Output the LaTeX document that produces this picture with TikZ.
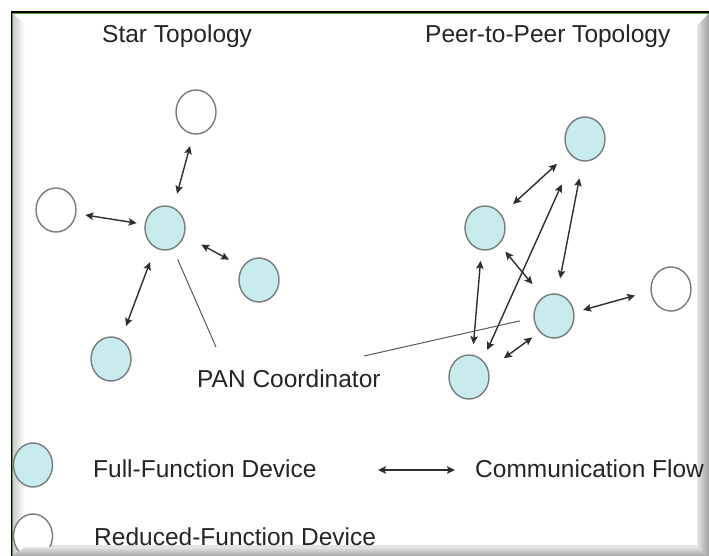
\documentclass[tikz,border=0pt]{standalone}
\usepackage{fontspec}
\setmainfont{Liberation Sans}
\usetikzlibrary{shapes.geometric,arrows.meta}
\definecolor{ffdfill}{HTML}{C8ECEE}
\definecolor{ringgray}{HTML}{7A7C7C}
\definecolor{txt}{HTML}{252525}
\definecolor{flowc}{HTML}{2E2E2E}
\definecolor{framegreen}{HTML}{5A9A2A}
\tikzset{
  dev/.style={ellipse, draw=ringgray, line width=1.4pt, minimum width=40pt, minimum height=44pt, inner sep=0pt},
  ffd/.style={dev, fill=ffdfill},
  rfd/.style={dev, fill=white},
  lbl/.style={font=\fontsize{24.5pt}{28pt}\selectfont, text=txt, inner sep=0pt, anchor=base west},
  flow/.style={draw=flowc, line width=1.4pt, {Stealth[length=8pt,width=7.5pt,inset=1.5pt]}-{Stealth[length=8pt,width=7.5pt,inset=1.5pt]}},
  panline/.style={draw=flowc!80, line width=1pt},
}
\begin{document}
\begin{tikzpicture}[x=1pt,y=-1pt]
\useasboundingbox (0,0) rectangle (709,556);
\fill[white] (0,0) rectangle (709,556);
% frame bevels
\shade[left color=gray!40, right color=white] (12.5,13) -- (25,25) -- (25,545) -- (12.5,556) -- cycle;
\shade[left color=gray!20, right color=gray!75] (697,26) -- (709,13) -- (709,556) -- (697,546) -- cycle;
\shade[top color=gray!20, bottom color=gray!70] (12.5,556) -- (25,545) -- (697,545) -- (709,556) -- cycle;
\draw[black, line width=1.2pt] (11.5,556) -- (11.5,12) -- (709,12);
\draw[framegreen, line width=0.7pt] (12.7,556) -- (12.7,13.2) -- (709,13.2);
% titles
\node[lbl] (startitle) at (102,43) {Star Topology};
\node[lbl] (peertitle) at (425,43) {Peer-to-Peer Topology};
% star topology
\node[rfd] (st) at (196,112) {};
\node[rfd] (sl) at (56,210) {};
\node[ffd] (sc) at (165,228) {};
\node[ffd] (sr) at (259,280) {};
\node[ffd] (sb) at (111,359) {};
\draw[flow, shorten <=12pt, shorten >=14pt] (st.263) -- (sc.68);
\draw[flow, shorten <=9pt, shorten >=8pt] (sl.350) -- (sc.170);
\draw[flow, shorten <=19pt, shorten >=15pt] (sc.339) -- (sr.142);
\draw[flow, shorten <=15pt, shorten >=14pt] (sc.244) -- (sb.63);
% peer-to-peer topology
\node[ffd] (pt) at (585,139) {};
\node[ffd] (pl) at (485,228) {};
\node[ffd] (pm) at (554,316) {};
\node[ffd] (pb) at (469,377) {};
\node[rfd] (pw) at (671,289) {};
\draw[flow, shorten <=15.5pt, shorten >=16pt] (pl.39) -- (pt.221);
\draw[flow, shorten <=11pt, shorten >=29pt] (pb.51) -- (pt.239);
\draw[flow, shorten <=15.5pt, shorten >=17pt] (pm.82) -- (pt.264);
\draw[flow, shorten <=9.5pt, shorten >=16.5pt] (pl.311) -- (pm.120);
\draw[flow, shorten <=10.5pt, shorten >=10.5pt] (pl.261) -- (pb.81);
\draw[flow, shorten <=19pt, shorten >=9pt] (pb.21) -- (pm.228);
\draw[flow, shorten <=9pt, shorten >=16pt] (pm.10) -- (pw.186);
% PAN coordinator label
\node[lbl] (pan) at (197,387) {PAN Coordinator};
\coordinate (panA) at (216,347);
\coordinate (panB) at (364,356);
\draw[panline, shorten <=11.6pt] (sc.291) -- (panA);
\draw[panline, shorten <=14pt] (pm.185) -- (panB);
% legend
\node[ffd, minimum width=39pt] (legf) at (33,465) {};
\node[rfd, minimum width=39pt] (legr) at (33,536) {};
\node[lbl] (legftxt) at (93,477) {Full-Function Device};
\node[lbl] (legrtxt) at (94,545) {Reduced-Function Device};
\node[lbl] (legctxt) at (475,477) {Communication Flow};
\coordinate (lfa) at (378,470);
\coordinate (lfb) at (455,470);
\draw[flow, line width=1.2pt] (lfa) -- (lfb);
% redraw bottom bevel over the legend circle
\shade[top color=gray!20, bottom color=gray!70] (12.5,556) -- (25,547) -- (697,547) -- (709,556) -- cycle;
\end{tikzpicture}
\end{document}
